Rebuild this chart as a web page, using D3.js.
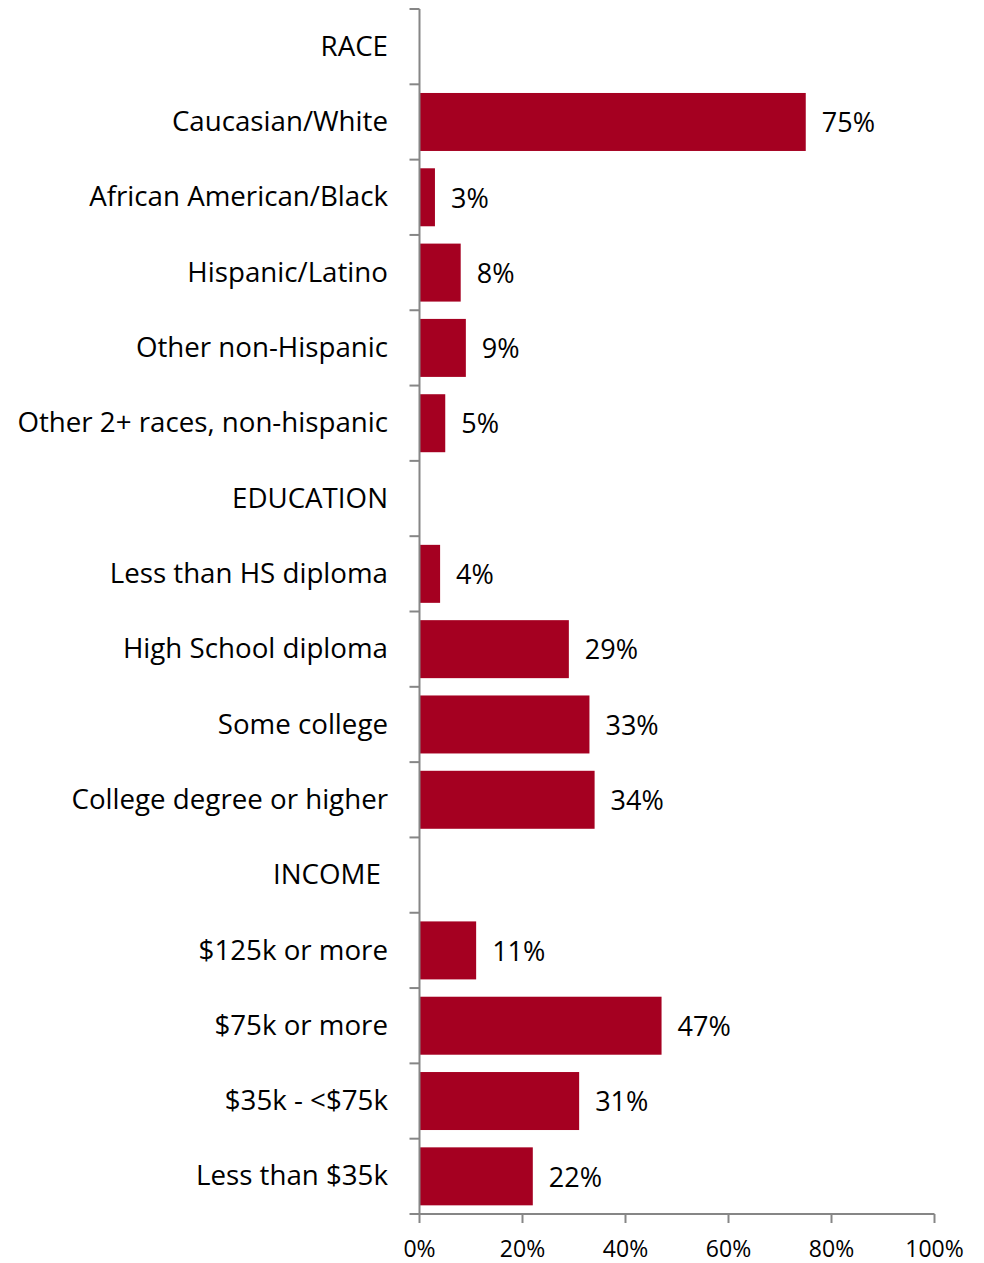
<!DOCTYPE html>
<html lang="en">
<head>
<meta charset="utf-8">
<script src="https://d3js.org/d3.v7.min.js"></script>
<style>
    body { margin: 0; background: #fff; }
    text { font-family: "Open Sans", "Noto Sans", sans-serif; fill: #000; }
</style>
</head>
<body>
<svg id="main" width="984" height="1263"></svg>
<script>
    // categories top to bottom, section headers have no value
    const categories = ['RACE', 'Caucasian/White', 'African American/Black', 'Hispanic/Latino',
        'Other non-Hispanic', 'Other 2+ races, non-hispanic', 'EDUCATION',
        'Less than HS diploma', 'High School diploma', 'Some college', 'College degree or higher',
        'INCOME\u00a0', '$125k or more', '$75k or more', '$35k - <$75k', 'Less than $35k'];
    const values = [null, 75, 3, 8, 9, 5, null, 4, 29, 33, 34, null, 11, 47, 31, 22];
    const xTicks = [0, 20, 40, 60, 80, 100];

    let svg = d3.select('svg#main');
    let plotLeft = 419.5, plotRight = 934.5, plotTop = 9, plotBottom = 1214;

    let x = d3.scaleLinear().domain([0, 100]).range([plotLeft, plotRight]);
    let y = d3.scaleBand().domain(categories).range([plotTop, plotBottom]).paddingInner(0.23).paddingOuter(0.115);

    let data = categories.map((c, i) => ({cat: c, val: values[i]}));

    svg.selectAll('rect.bar')
        .data(data.filter(d => d.val !== null))
        .enter().append('rect')
        .attr('class', 'bar')
        .attr('x', x(0))
        .attr('y', d => y(d.cat))
        .attr('width', d => x(d.val) - x(0))
        .attr('height', y.bandwidth())
        .attr('fill', '#a50021');

    svg.selectAll('text.val')
        .data(data.filter(d => d.val !== null))
        .enter().append('text')
        .attr('class', 'val')
        .attr('x', d => x(d.val) + 16)
        .attr('y', d => y(d.cat) + y.bandwidth() / 2)
        .attr('dy', '0.38em')
        .style('font-size', '27px')
        .text(d => d.val + '%');

    // y axis with ticks at band boundaries
    let boundaries = d3.range(categories.length + 1).map(i => plotTop + i * (plotBottom - plotTop) / categories.length);
    let axisColor = '#868686';

    svg.append('line')
        .attr('x1', plotLeft).attr('x2', plotLeft)
        .attr('y1', plotTop).attr('y2', plotBottom)
        .attr('stroke', axisColor).attr('stroke-width', 2);

    svg.selectAll('line.ytick')
        .data(boundaries)
        .enter().append('line')
        .attr('class', 'ytick')
        .attr('x1', plotLeft - 10).attr('x2', plotLeft)
        .attr('y1', d => d).attr('y2', d => d)
        .attr('stroke', axisColor).attr('stroke-width', 2);

    svg.selectAll('text.cat')
        .data(categories)
        .enter().append('text')
        .attr('class', 'cat')
        .attr('x', 388)
        .attr('y', d => y(d) + y.bandwidth() / 2)
        .attr('dy', '0.33em')
        .attr('text-anchor', 'end')
        .style('font-size', '27.7px')
        .text(d => d);

    // x axis
    svg.append('line')
        .attr('x1', plotLeft).attr('x2', plotRight)
        .attr('y1', plotBottom).attr('y2', plotBottom)
        .attr('stroke', axisColor).attr('stroke-width', 2);

    svg.selectAll('line.xtick')
        .data(xTicks)
        .enter().append('line')
        .attr('class', 'xtick')
        .attr('x1', d => x(d)).attr('x2', d => x(d))
        .attr('y1', plotBottom).attr('y2', plotBottom + 9)
        .attr('stroke', axisColor).attr('stroke-width', 2);

    svg.selectAll('text.xlab')
        .data(xTicks)
        .enter().append('text')
        .attr('class', 'xlab')
        .attr('x', d => x(d))
        .attr('y', 1249)
        .attr('dy', '0.35em')
        .attr('text-anchor', 'middle')
        .style('font-size', '23px')
        .text(d => d + '%');
</script>
</body>
</html>
